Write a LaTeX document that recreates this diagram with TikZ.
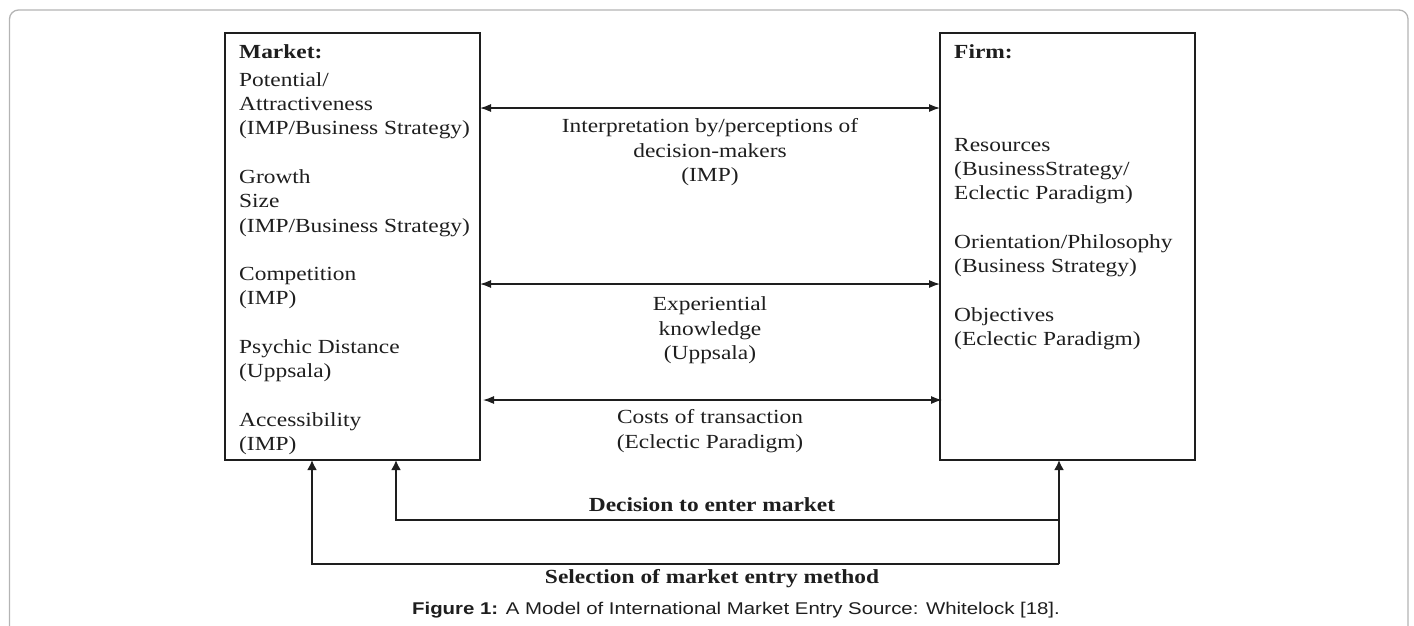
\documentclass[tikz,border=0pt]{standalone}
\usepackage{fontspec}
\setmainfont{Liberation Serif}
\newfontfamily\capfont{Liberation Sans}
\usetikzlibrary{arrows.meta}
\definecolor{ink}{HTML}{1E1E1E}
\definecolor{frame}{HTML}{B4B4B4}
\newcommand{\sx}[1]{\scalebox{1.17}[1]{#1}}
\newcommand{\cx}[1]{\scalebox{1.2}[1]{#1}}
\begin{document}
\begin{tikzpicture}[x=1pt,y=1pt,
  boxst/.style={draw=ink, line width=1.8pt, minimum width=255pt, minimum height=427pt,
                anchor=north west, inner sep=0pt, outer sep=0pt},
  txt/.style={font=\fontsize{20}{24.3}\selectfont, text=ink, inner sep=0pt},
  harrow/.style={draw=ink, line width=1.2pt, {Latex[length=11pt,width=8pt]}-{Latex[length=11pt,width=8pt]}},
  barrow/.style={draw=ink, line width=2.2pt, line join=miter, -{Latex[length=10pt,width=10pt]}},
  captxt/.style={font=\capfont\fontsize{17}{20}\selectfont, text=ink, inner sep=0pt}
]
\useasboundingbox (0,0) rectangle (1414,-625);
\draw[frame, line width=1.3pt, rounded corners=9pt] (9.5,-10) rectangle (1408,-660);

% boxes
\node[boxst] (mkt) at (225,-33) {};
\node[boxst] (firm) at (940,-33) {};

% box texts
\node[txt, anchor=north west] (mkttxt) at (239,-41) {\sx{\begin{tabular}{@{}l@{}}
\textbf{Market:}\\[3.7pt]
Potential/\\
Attractiveness\\
(IMP/Business Strategy)\\
\\
Growth\\
Size\\
(IMP/Business Strategy)\\
\\
Competition\\
(IMP)\\
\\
Psychic Distance\\
(Uppsala)\\
\\
Accessibility\\
(IMP)
\end{tabular}}};

\node[txt, anchor=north west] (firmhead) at (954,-41) {\sx{\begin{tabular}{@{}l@{}}\textbf{Firm:}\end{tabular}}};
\node[txt, anchor=north west] (firmtxt) at (954,-134) {\sx{\begin{tabular}{@{}l@{}}
Resources\\
(BusinessStrategy/\\
Eclectic Paradigm)\\
\\
Orientation/Philosophy\\
(Business Strategy)\\
\\
Objectives\\
(Eclectic Paradigm)
\end{tabular}}};

% horizontal two-way arrows
\draw[harrow] (mkt.east |- 0,-108) -- (firm.west |- 0,-108);
\draw[harrow] (mkt.east |- 0,-284) -- (firm.west |- 0,-284);
\draw[harrow] ([xshift=3pt]mkt.east |- 0,-400) -- ([xshift=2pt]firm.west |- 0,-400);

\node[txt, anchor=north] (lab1) at (710,-115.5) {\sx{\begin{tabular}{@{}c@{}}
Interpretation by/perceptions of\\
decision-makers\\
(IMP)
\end{tabular}}};
\node[txt, anchor=north] (lab2) at (710,-293.5) {\sx{\begin{tabular}{@{}c@{}}
Experiential\\
knowledge\\
(Uppsala)
\end{tabular}}};
\node[txt, anchor=north] (lab3) at (710,-406.5) {\sx{\begin{tabular}{@{}c@{}}
Costs of transaction\\
(Eclectic Paradigm)
\end{tabular}}};

% bottom feedback connectors
\coordinate (j1) at (1059,-520);
\coordinate (j2) at (1059,-564);
\coordinate (c1) at (396,-520);
\coordinate (c2) at (312,-564);
\draw[barrow] (j2) -- (j2 |- firm.south);
\draw[barrow] (j1) -- (c1) -- (c1 |- mkt.south);
\draw[barrow] (j2) -- (c2) -- (c2 |- mkt.south);

\node[txt, anchor=base] (dec) at (712,-511.5) {\sx{\textbf{Decision to enter market}}};
\node[txt, anchor=base] (sel) at (712,-583.5) {\sx{\textbf{Selection of market entry method}}};

% caption
\node[captxt, anchor=base] (cap) at (736,-614) {\cx{\textbf{Figure 1:} A Model of International Market Entry Source: Whitelock [18].}};
\end{tikzpicture}
\end{document}
